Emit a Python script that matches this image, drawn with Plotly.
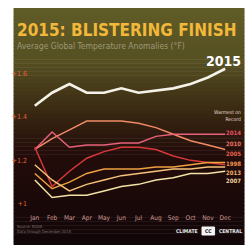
import plotly.graph_objects as go

months = ["Jan", "Feb", "Mar", "Apr", "May", "Jun", "Jul", "Aug", "Sep", "Oct", "Nov", "Dec"]
y2015 = [1.45, 1.51, 1.55, 1.51, 1.51, 1.53, 1.51, 1.52, 1.53, 1.55, 1.58, 1.62]
line_a = [1.25, 1.30, 1.34, 1.38, 1.38, 1.38, 1.37, 1.35, 1.32, 1.29, 1.27, 1.25]
line_b = [1.25, 1.33, 1.26, 1.27, 1.27, 1.28, 1.28, 1.31, 1.32, 1.32, 1.32, 1.32]
line_c = [1.26, 1.08, 1.15, 1.21, 1.24, 1.26, 1.26, 1.25, 1.22, 1.20, 1.19, 1.18]
line_d = [1.14, 1.07, 1.10, 1.14, 1.16, 1.16, 1.16, 1.17, 1.17, 1.18, 1.19, 1.19]
line_e = [1.18, 1.11, 1.06, 1.09, 1.11, 1.13, 1.14, 1.15, 1.16, 1.16, 1.17, 1.17]
line_f = [1.11, 1.03, 1.04, 1.04, 1.06, 1.08, 1.09, 1.11, 1.12, 1.14, 1.14, 1.15]
ytick_vals = [1.0, 1.2, 1.4, 1.6]
ytick_text = ["+1", "+1.2", "+1.4", "+1.6"]
side_years = ["2014", "2010", "2005", "1998", "2013", "2007"]

W, H = 247, 246
L, R, T, B = 22, 16, 60, 36
FONT = "DejaVu Sans Condensed, Roboto, sans-serif"


def px(x):  # page pixel -> paper
    return (x - L) / (W - L - R)


def py(y):
    return (H - B - y) / (H - T - B)


fig = go.Figure()

# background gradient strips
stops = [(0, (98, 94, 40)), (60, (86, 80, 34)), (110, (58, 42, 18)),
         (150, (36, 13, 10)), (250, (16, 5, 8))]
n = 60
top, bot = 8, 245
for i in range(n):
    y0 = top + (bot - top) * i / n
    y1 = top + (bot - top) * (i + 1) / n
    ym = (y0 + y1) / 2
    for j in range(len(stops) - 1):
        if stops[j][0] <= ym <= stops[j + 1][0]:
            t = (ym - stops[j][0]) / (stops[j + 1][0] - stops[j][0])
            c = [round(stops[j][1][k] + t * (stops[j + 1][1][k] - stops[j][1][k])) for k in range(3)]
            break
    fig.add_shape(type="rect", xref="paper", yref="paper",
                  x0=px(6), x1=px(245), y0=py(min(y1 + 0.5, bot)), y1=py(y0),
                  fillcolor=f"rgb({c[0]},{c[1]},{c[2]})", line_width=0, layer="below")

colors = ["#f08a66", "#e8607a", "#d83838", "#f0a040", "#f6c27a", "#f2e2a6"]
for vals, col in zip([line_a, line_b, line_c, line_d, line_e, line_f], colors):
    fig.add_trace(go.Scatter(x=months, y=vals, mode="lines",
                             line=dict(color=col, width=1.5), hoverinfo="skip"))
fig.add_trace(go.Scatter(x=months, y=y2015, mode="lines",
                         line=dict(color="#f4f2e8", width=2.6), hoverinfo="skip"))

fig.update_layout(
    width=W, height=H, margin=dict(l=L, r=R, t=T, b=B),
    paper_bgcolor="white", plot_bgcolor="rgba(0,0,0,0)", showlegend=False,
    xaxis=dict(range=[-0.335, 11.335], showgrid=False, zeroline=False,
               tickfont=dict(family=FONT, size=6.5, color="#d09890"),
               ticks="", ticklabelstandoff=2),
    yaxis=dict(range=[0.9725, 1.66], showgrid=False, zeroline=False,
               tickvals=ytick_vals, ticktext=ytick_text, ticks="",
               tickfont=dict(family=FONT, size=7, color="#e0603a"),
               ticklabelstandoff=1),
)

ann = []
ann.append(dict(x=px(7), y=py(30), text="<b>2015: BLISTERING FINISH</b>", xanchor="left",
                yanchor="middle", font=dict(family=FONT, size=17, color="#f2b83a")))
ann.append(dict(x=px(8), y=py(46), text="Average Global Temperature Anomalies (°F)", xanchor="left",
                yanchor="middle", font=dict(family=FONT, size=8.5, color="#9c987a")))
ann.append(dict(x=px(243), y=py(61), text="<b>2015</b>", xanchor="right",
                yanchor="middle", font=dict(family=FONT, size=14, color="#ffffff")))
ann.append(dict(x=px(243), y=py(115), text="Warmest on<br>Record", xanchor="right", align="right",
                yanchor="middle", font=dict(family=FONT, size=5, color="#e8d8d0")))
label_ys = [132, 143, 153, 163, 172, 180]
label_cols = ["#e85060", "#e87060", "#e86048", "#f09050", "#f4b070", "#f4d8a0"]
for yr, yy, col in zip(side_years, label_ys, label_cols):
    ann.append(dict(x=px(243), y=py(yy), text="<b>" + yr + "</b>", xanchor="right",
                    yanchor="middle", font=dict(family=FONT, size=6, color=col)))
ann.append(dict(x=px(8), y=py(226), text="Source: NOAA", xanchor="left", yanchor="middle",
                font=dict(family=FONT, size=4, color="#807070")))
ann.append(dict(x=px(8), y=py(231), text="Data through December 2015", xanchor="left",
                yanchor="middle", font=dict(family=FONT, size=4, color="#807070")))
ann.append(dict(x=px(199), y=py(231), text="<b>CLIMATE</b>", xanchor="right", yanchor="middle",
                font=dict(family=FONT, size=5, color="#e8e8e8")))
ann.append(dict(x=px(207.5), y=py(231), text="<b>CC</b>", xanchor="center", yanchor="middle",
                font=dict(family=FONT, size=5, color="#101010")))
ann.append(dict(x=px(216), y=py(231), text="<b>CENTRAL</b>", xanchor="left", yanchor="middle",
                font=dict(family=FONT, size=5, color="#e8e8e8")))
for a in ann:
    a.update(xref="paper", yref="paper", showarrow=False)
fig.update_layout(annotations=ann)
fig.add_shape(type="rect", xref="paper", yref="paper", x0=px(201), x1=px(214), y0=py(235), y1=py(227),
              fillcolor="#f4f4f4", line=dict(color="#f4f4f4", width=1))

fig.write_html("out.html", config={"displayModeBar": False},
               post_script="document.body.style.margin='0';document.body.style.overflow='hidden';")
